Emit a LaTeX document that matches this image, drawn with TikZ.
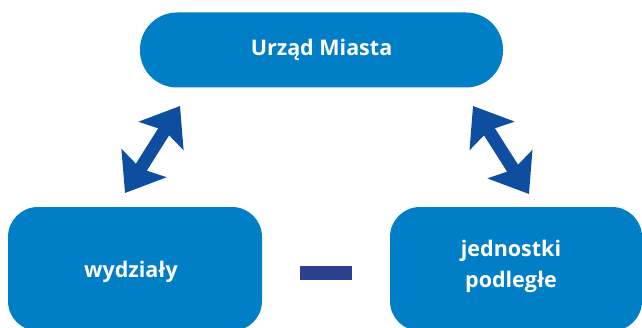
\documentclass[tikz,border=0pt]{standalone}
\usepackage{fontspec}
\setmainfont{Open Sans}
\usetikzlibrary{arrows.meta}
\definecolor{boxblue}{RGB}{0,126,198}
\definecolor{arrblue}{RGB}{14,78,160}
\definecolor{dashblue}{RGB}{44,64,144}
\tikzset{
  boxfont/.style={font=\bfseries\fontsize{21.5}{31}\selectfont},
  box/.style={fill=boxblue, draw=none, text=white, boxfont, align=center, inner sep=0pt},
  dblarrow/.style={draw=arrblue, line width=13pt, {Stealth[length=35pt,width=52pt,inset=6pt]}-{Stealth[length=35pt,width=52pt,inset=6pt]}}
}
\begin{document}
\begin{tikzpicture}[x=1pt,y=1pt]
\useasboundingbox (0,0) rectangle (642,327);
\clip (0,0) rectangle (642,327);
\node[box, rounded corners=37pt, minimum width=363pt, minimum height=75pt] (top) at (321.5,277) {Urząd Miasta};
\node[box, rounded corners=30pt, minimum width=254pt, minimum height=124pt] (left) at (135,58) {};
\node[boxfont, text=white] (lt) at (131,55) {wydziały};
\node[box, rounded corners=30pt, minimum width=252pt, minimum height=124pt] (right) at (516,58) {};
\node[boxfont, text=white, align=center] (rt) at (511,61) {jednostki\\podległe};
\node[fill=dashblue, minimum width=52pt, minimum height=14pt, inner sep=0pt] (dash) at (326,54) {};
\coordinate (a1) at (125,134);
\coordinate (a2) at (180,221);
\coordinate (b1) at (473,221);
\coordinate (b2) at (529,133);
\draw[dblarrow] (a1) -- (a2);
\draw[dblarrow] (b1) -- (b2);
\end{tikzpicture}
\end{document}
